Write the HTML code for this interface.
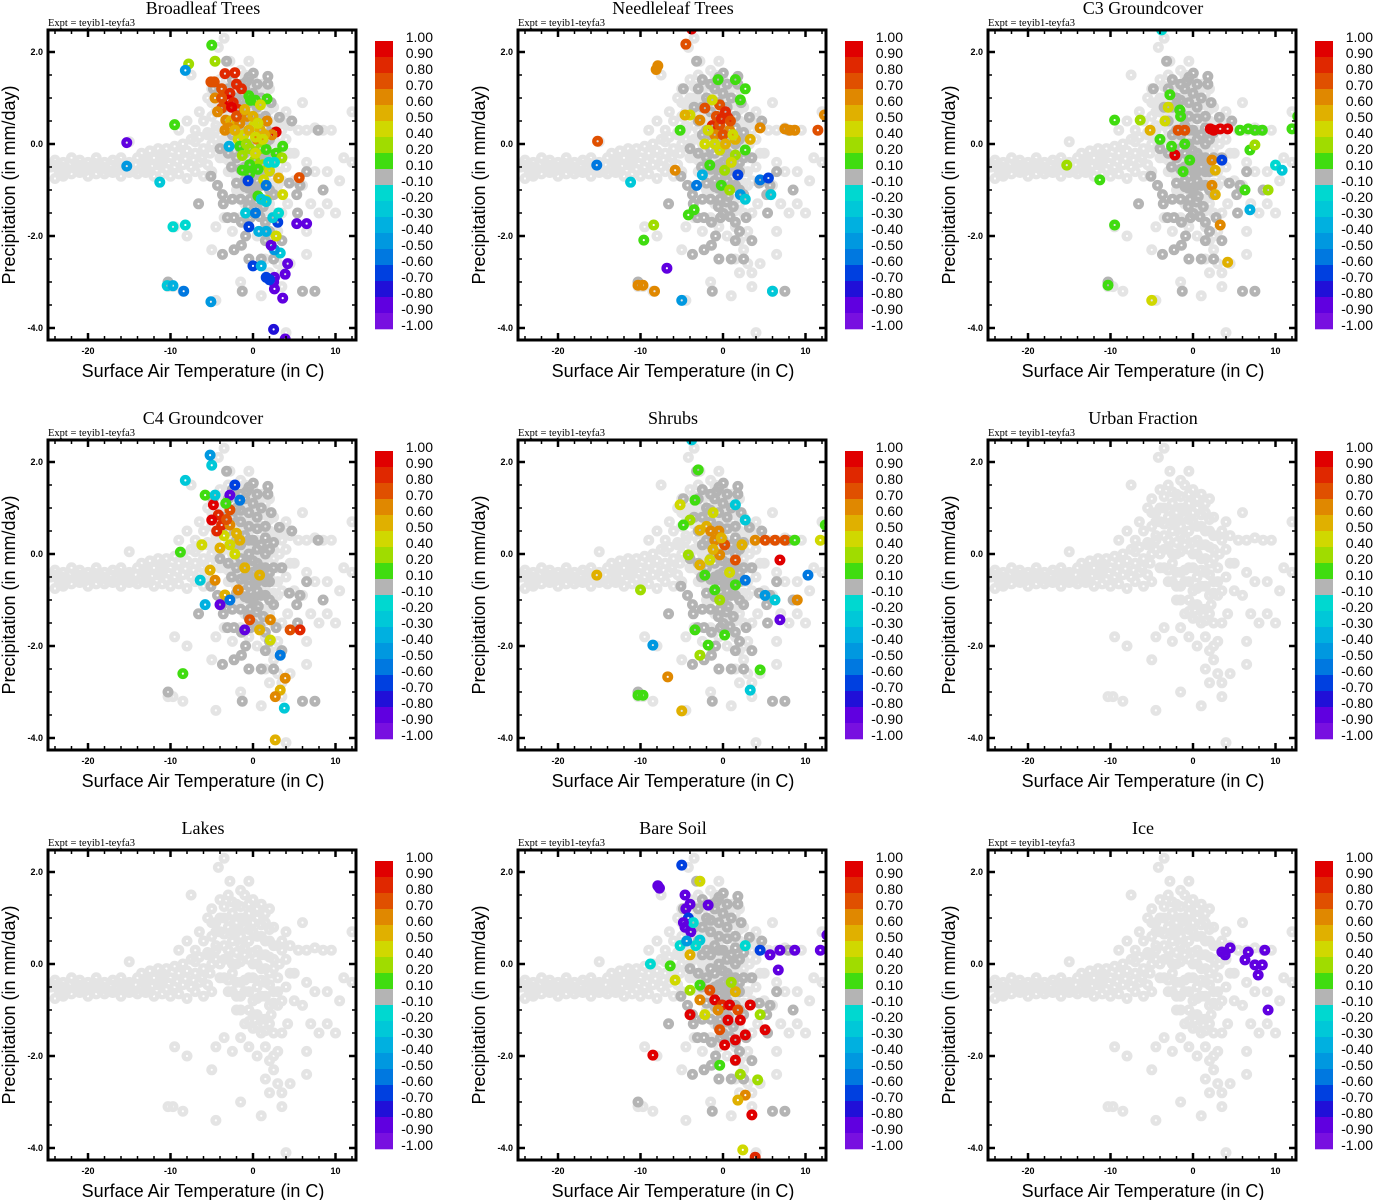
<!DOCTYPE html>
<html><head><meta charset="utf-8">
<style>
html,body{margin:0;padding:0;background:#fff;}
svg{display:block;}
text{font-family:"Liberation Sans",sans-serif;}
.serif{font-family:"Liberation Serif",serif;}
</style></head>
<body>
<svg id="chart" width="1373" height="1200" viewBox="0 0 1373 1200" xmlns="http://www.w3.org/2000/svg"></svg>
<script>
// ---- colour bar data ----
const cbLabels = ["1.00","0.90","0.80","0.70","0.60","0.50","0.40","0.20","0.10","-0.10","-0.20","-0.30","-0.40","-0.50","-0.60","-0.70","-0.80","-0.90","-1.00"];
const cbEdges = [1.0,0.9,0.8,0.7,0.6,0.5,0.4,0.2,0.1,-0.1,-0.2,-0.3,-0.4,-0.5,-0.6,-0.7,-0.8,-0.9,-1.0];
const cbColors = ["#e00000","#e02800","#e05000","#e08800","#e0b000","#d0d800","#a0dc00","#40dc10","#b4b4b4","#00d8d0","#00c8d8","#00b0e0","#0098e0","#0078e0","#0040e0","#2010d8","#6000e0","#7810e0"];
const xTickLabels = ["-20","-10","0","10"];
const xTickValues = [-20,-10,0,10];
const yTickLabels = ["2.0","0.0","-2.0","-4.0"];
const yTickValues = [2,0,-2,-4];
const panelTitles = ["Broadleaf Trees","Needleleaf Trees","C3 Groundcover","C4 Groundcover","Shrubs","Urban Fraction","Lakes","Bare Soil","Ice"];
const panelHasCore = [true,true,true,true,true,false,false,true,false];

// background cloud (light grey) [T, P]
const backgroundPoints = [
[-24.5,-0.5],[-24,-0.35],[-23.5,-0.6],[-23,-0.4],[-22.5,-0.55],[-22,-0.3],[-21.5,-0.5],[-21,-0.35],[-20.5,-0.6],[-20,-0.4],[-19.5,-0.5],[-19,-0.3],[-18.5,-0.55],[-18,-0.4],[-17.5,-0.6],[-17,-0.35],[-16.5,-0.5],[-16,-0.3],[-15.5,-0.55],[-15,-0.4],[-14.5,-0.6],[-14,-0.3],[-13.5,-0.5],[-13,-0.35],[-12.5,-0.6],[-12,-0.3],[-11.5,-0.45],[-11,-0.25],[-10.5,-0.55],[-10,-0.3],[-9.5,-0.5],[-9,-0.2],[-8.5,-0.45],[-8,-0.15],[-7.5,-0.5],[-7,-0.2],[-6.5,-0.4],[-6,-0.1],[-5.5,-0.45],[-5,0.0],
[-24.2,-0.45],[-23.2,-0.5],[-22.2,-0.45],[-21.2,-0.45],[-20.2,-0.5],[-19.2,-0.42],[-18.2,-0.5],[-17.2,-0.45],[-16.2,-0.42],[-15.2,-0.48],[-14.2,-0.45],[-13.2,-0.42],[-12.2,-0.48],[-11.2,-0.4],[-10.2,-0.42],[-9.2,-0.38],[-8.2,-0.32],[-7.2,-0.35],[-6.2,-0.3],[-5.2,-0.2],
[-13.5,-0.2],[-12.5,-0.15],[-11.5,-0.1],[-10.5,-0.1],[-9.5,-0.05],[-8.5,0.0],[-7.5,0.1],[-6.5,0.15],[-5.5,0.25],[-4.5,0.1],[-4,-0.3],[-7,-0.6],[-5,-0.6],[-9,-0.65],[-11,-0.65],[-13,-0.62],[-15,-0.62],[-17,-0.62],[-19,-0.65],[-21,-0.62],[-23,-0.62],
[-24,-0.75],[-23,-0.7],[-22,-0.65],[-20,-0.7],[-18,-0.65],[-16,-0.7],[-14,-0.65],[-12,-0.7],[-10,-0.7],[-8,-0.75],[-6,-0.7],[-9,0.3],[-7,0.05],[-8,0.5],[-6.5,0.7],[-7.5,1.5],[-5,0.9],[-4.5,0.4],[-15,0.05],[-11,-0.2],[-13,-0.45],
[-5,1.2],[-4,1.4],[-3,1.5],[-2,1.3],[-1,1.5],[0,1.4],[1,1.3],[2,1.2],[-4.5,0.9],[-3.5,1.0],[-2.5,1.1],[-1.5,1.0],[-0.5,1.1],[0.5,1.0],[1.5,0.9],[2.5,0.8],[-5,0.6],[-4,0.7],[-3,0.8],[-2,0.7],[-1,0.8],[0,0.7],[1,0.6],[2,0.5],[3,0.4],[-4.5,0.3],[-3.5,0.4],[-2.5,0.5],[-1.5,0.4],[-0.5,0.5],[0.5,0.3],[1.5,0.2],[2.5,0.1],[3.5,0.3],[-4,0.0],[-3,0.1],[-2,0.0],[-1,0.2],[0,0.0],[1,-0.1],[2,-0.2],[3,-0.3],[-3.5,-0.3],[-2.5,-0.2],[-1.5,-0.4],[-0.5,-0.3],[0.5,-0.5],[1.5,-0.4],[2.5,-0.6],[-3,-0.6],[-2,-0.7],[-1,-0.6],[0,-0.8],[1,-0.7],[2,-0.9],[-0.5,-1.0],[0.5,-1.1],[1.5,-1.2],[-1,-1.3],[0,-1.4],[1,-1.5],[2,-1.3],[-2,-1.0],[3,-0.9],[-1.5,1.6],[-0.5,1.8],[-2.8,1.8],[-4.2,2.1],[-5.5,1.0],[-6,0.5],[-5.5,0.2],[-7,0.3],[-3.5,2.3],
[-3.5,1.25],[-2.5,1.35],[-1.5,1.25],[-0.5,1.3],[0.5,1.2],[1.5,1.1],[-4,1.0],[-3,0.95],[-2,0.9],[-1,1.0],[0,0.9],[1,0.85],[2,0.75],[-4.5,0.7],[-3.5,0.65],[-2.5,0.7],[-1.5,0.6],[-0.5,0.75],[0.5,0.6],[1.5,0.5],[2.5,0.4],[-3,0.3],[-2,0.25],[-1,0.35],[0,0.25],[1,0.2],[2,0.15],[-3.5,0.1],[-2.5,0.0],[-1.5,0.05],[-0.5,0.1],[0.5,0.0],[1.5,-0.1],[2.5,-0.1],[3.2,0.0],[-3,-0.35],[-2,-0.4],[-1,-0.35],[0,-0.3],[1,-0.35],[2,-0.45],[3,-0.6],[-2.5,-0.6],[-1.5,-0.7],[-0.5,-0.6],[0.5,-0.75],[1.5,-0.7],[2.5,-0.85],[-1.5,-1.0],[0,-1.1],[1,-1.2],[2.2,-1.1],[-0.5,-1.25],[0.5,-1.35],[1.5,-1.45],[2.5,-1.5],
[1.5,-1.8],[2,-2.1],[2.5,-2.3],[3,-2.6],[3.5,-2.8],[0.5,-2.0],[-0.5,-1.8],[-1.5,-1.6],[-2.5,-1.9],[-3.5,-1.6],[-4.5,-1.8],[-5,-2.3],[-9.5,-1.8],[-8,-2.0],[-9.7,-3.1],[-10.3,-3.1],[-8.5,-3.2],[-4.5,-3.4],[-1.5,-3.0],[1,-3.3],[3.5,-3.1],[4.5,-2.6],[6.5,-2.4],[4,-4.1],[2,-2.8],[1.5,-2.5],[4.2,-1.3],[5,-0.8],[6,-0.9],[7,-1.3],[7.5,-0.6],[9,-0.6],[10.5,-0.8],[11,-0.3],[12,-0.4],[9,-1.3],[10,-1.5],[8,-1.5],[6.5,-1.9],[3.5,0.5],[4.5,0.4],[5.5,0.3],[6.5,0.3],[7.5,0.35],[8.5,0.3],[9.5,0.3],[12,0.7],[6,0.9],[4,0.7],[5,-0.2],[6.5,-0.4],[4,-0.5],[4,0.1],[4.5,-0.2],[3.5,-0.8],[3.5,-1.5],[3,-1.9],[2.5,-2.0]
];

// medium grey core (values within -0.1..0.1) [T, P]
const corePoints = [
[-3.2,1.8],[1.8,1.47],[1.8,1.3],[3.2,0.58],[4.7,0.5],[7.9,0.3],[5.7,-0.9],[5.3,-1.1],[4.4,-0.85],[-4.0,-0.1],[-2.6,-0.5],[-5.1,-0.7],[-4.3,-0.9],[-3.7,-1.1],[-3.6,-1.3],[-6.6,-1.3],[-3.1,-1.6],[-2.3,-1.6],[-1.4,-1.7],[-0.9,-2.0],[-1.4,-2.2],[-2.3,-2.3],[-3.7,-2.4],[1.0,-2.5],[-1.3,-3.2],[6.0,-3.2],[5.4,-1.5],[-4.8,1.2],[0.2,-0.6],
[-0.57,-0.96],[0.04,-1.03],[0.64,-1.14],[-0.36,-1.2],[0.44,-1.26],[1.25,-1.36],[0.04,-1.51],[0.85,-1.58],[-0.57,-1.36],[-0.97,-0.93],[0.04,1.54],[-0.77,1.36],
[-3,1.2],[-2,1.0],[-1,1.2],[0,1.1],[1,1.0],[-1.5,0.7],[-0.5,0.6],[0.5,0.8],[1.5,0.6],[2.2,0.9],[-2,0.3],[-1,0.4],[0,0.3],[1,0.2],[2,0.1],[-1.5,-0.1],[-0.5,0.0],[0.5,-0.2],[1.5,-0.3],[-1,-0.5],[0,-0.4],[1,-0.5],[2,-0.6],[-0.5,-0.7],[0.5,-0.8],[1.5,-0.9],[2.5,-1.1],[-2.5,-1.2],[2.8,-1.6],[3.5,-2.1],[2.5,-2.5],[1.5,-2.1],[-0.5,-2.5],[7.5,-3.2],[8.5,-1.0],[6.5,-0.6],[3.5,-0.3],[-10.3,-3.0],
[-2.5,1.4],[-1.5,1.3],[-0.5,1.45],[0.5,1.3],[-3.5,0.8],[-2.5,0.8],[-1.5,0.95],[-0.5,0.9],[0.5,0.55],[1.5,0.35],[2.5,0.25],[-3,0.5],[-2.5,0.2],[-1.5,0.2],[-0.5,0.3],[0.5,0.1],[1.5,0.0],[2.5,-0.3],[-3,-0.2],[-2,-0.3],[-1,-0.2],[0,-0.15],[1,-0.3],[2,-0.4],[-1.5,-0.55],[-0.5,-0.45],[0.5,-0.6],[1.5,-0.6],[-2,-0.85],[-1,-0.8],[0,-0.95],[1,-0.9],[2,-1.0],[-1.5,-1.2],[-0.3,-1.6],[1.5,-1.7],[2,-1.9]
];

// per-panel coloured points [T, P, value]
const broadleafPoints = [
[-5.0,2.15,0.15],[-7.8,1.74,0.3],[-8.2,1.6,-0.45],[-4.6,1.8,0.3],[-9.5,0.42,0.15],[-15.3,0.03,-0.9],[-15.3,-0.48,-0.45],[-11.3,-0.83,-0.3],[-9.7,-1.8,-0.2],[-8.2,-1.76,-0.2],[-10.4,-3.08,-0.3],[-9.7,-3.08,-0.4],[-8.4,-3.2,-0.6],[-5.1,-3.43,-0.45],[2.5,-4.03,-0.8],[3.9,-4.24,-0.85],[3.6,-3.35,-0.85],[3.9,-2.83,-0.9],[4.2,-2.6,-0.9],[2.6,-2.9,-0.85],[2.5,-3.0,-0.85],[2.6,-3.15,-0.85],[1.6,-2.9,-0.7],[2.0,-2.95,-0.7],[0,-2.65,-0.7],[1.0,-2.65,-0.4],[3.3,-2.37,-0.3],[2.6,-2.3,-0.5],[2.2,-2.2,-0.85],[2.8,-2.0,0.45],[5.3,-1.73,-0.85],[6.5,-1.73,-0.85],[3.0,-1.7,-0.65],[2.4,-1.6,-0.25],[3.1,-1.5,-0.2],[5.6,-0.73,0.75],[3.6,-1.1,0.45],[3.1,-0.74,0.55],[1.6,-1.22,0.45],[0.6,-1.13,0.15],[1.3,-0.78,0.4],[0.7,-1.9,-0.35],[1.6,-1.9,-0.35],[-0.5,-1.8,-0.7],[-0.9,-1.5,-0.25],[0.3,-1.5,-0.55],[2.8,0.26,0.95],[3.6,-0.05,0.15],[2.8,-0.2,0.15],[3.5,-0.3,0.3],[1.7,0.98,0.15],[0.3,0.95,0.15],[-0.5,1.05,0.15],[1.7,0.5,0.65],[2.3,0.2,0.6],
[-5.1,1.35,0.75],[-4.7,1.35,0.75],[-3.4,1.53,0.85],[-2.2,1.55,0.8],[-3.8,1.2,0.75],[-2.8,1.1,0.85],[-3.0,0.95,0.95],[-3.8,0.78,0.75],[-2.4,0.9,0.85],[-1.8,0.75,0.8],[-2.6,0.8,0.95],[-4.6,1.0,0.65],[-4.3,0.7,0.65],[-3.3,0.52,0.6],[-2.7,0.5,0.55],[-1.6,0.45,0.6],[-0.7,0.6,0.6],[0.1,0.4,0.45],[0.9,0.3,0.5],[1.4,0.2,0.55],[0.5,0.1,0.6],[-1.1,0.2,0.45],[-1.8,0.1,0.45],[-3.4,0.3,0.6],[-2.9,0.35,0.65],[0.9,0.85,0.45],[-0.3,0.95,0.15],
[-1.6,-0.05,0.15],[-0.4,-0.1,0.2],[0.9,-0.1,0.3],[1.6,-0.12,0.15],[-1.3,-0.25,0.3],[0.2,-0.35,0.2],[-0.4,-0.45,0.15],[1.2,-0.45,0.35],[-1.3,-0.57,0.15],[-0.4,-0.65,0.15],[0.6,-0.55,0.15],[2.0,-0.58,0.4],[0.3,-0.2,0.45],[-2.9,-0.05,-0.4],[1.9,-0.4,-0.2],[2.6,-0.4,-0.2],[-0.6,-0.8,-0.65],[1.6,-0.9,-0.6],[1.0,-1.2,-0.3],[1.6,-1.25,-0.3],
[-2.0,0.6,0.7],[-1.0,0.75,0.55],[0.0,0.6,0.5],[-0.5,0.3,0.5],[0.6,0.45,0.45],[-2.2,0.3,0.5],[-1.4,1.2,0.85],[-2.0,1.3,0.8],[-3.8,1.0,0.7],[1.2,0.1,0.4],[-0.8,0.0,0.3],[0.3,0.15,0.45]
];
const needleleafPoints = [
[-3.8,2.5,0.95],[-4.5,2.17,0.75],[-7.9,1.7,0.65],[-8.1,1.62,0.65],[-0.4,0.85,0.7],[-1.3,0.4,0.8],[-0.4,0.41,0.75],[0.6,0.57,0.85],[0.8,0.3,0.65],[-1,0.2,0.6],[1.5,0.1,0.55],[-2.2,0.78,0.7],[-2.8,0.52,0.6],[-1.3,0.96,0.45],[2.1,0.96,0.15],[2.7,1.2,0.15],[1.5,1.4,0.15],[-0.6,1.4,0.15],[-4,0.63,0.4],[-5.2,0.3,0.15],[-4.6,0.63,0.5],[-2.2,0,0.45],[-0.4,-0.13,0.4],[1.5,-0.24,0.2],[2.7,-0.13,0.15],[3.3,0.1,0.5],[4.5,0.35,0.65],[7.5,0.33,0.65],[8.1,0.3,0.65],[8.7,0.3,0.65],[11.5,0.3,0.7],[12.3,0.63,0.65],[-1.6,-0.46,0.15],[0.2,-0.57,0.35],[1.8,-0.67,-0.65],[4.5,-0.78,-0.6],[5.5,-0.74,-0.7],[-2.5,-0.67,-0.4],[2.1,-1.1,-0.5],[2.7,-1.2,-0.3],[-3.5,-1.43,0.15],[-4.2,-1.54,0.15],[-8.4,-1.76,0.3],[-9.6,-2.09,0.15],[-6.8,-2.7,-0.85],[-10.3,-3.07,0.65],[-9.7,-3.07,0.65],[-8.3,-3.2,0.65],[-5.0,-3.4,-0.45],[6,-3.2,-0.25],[-15.2,0.06,0.75],[-15.3,-0.46,-0.55],[-11.2,-0.83,-0.3],[-5.8,-0.57,0.6],[5.8,-1.1,-0.3],[-3.2,-0.9,-0.6],
[0,0.2,0.75],[-0.8,0.6,0.7],[0.3,0.0,0.5],[-1.8,0.3,0.45],[1,-0.4,0.4],[-0.2,-0.9,0.15],[0.8,-1.0,0.3],[0.3,0.7,0.8],[-0.2,0.55,0.85],[0.9,0.5,0.75],[-1.0,0.0,0.45],[1.2,0.2,0.45]
];
const c3Points = [
[-3.8,2.48,-0.2],[2.1,0.33,0.95],[2.5,0.3,0.95],[3.3,0.33,0.95],[4.2,0.33,0.9],[5.7,0.3,0.15],[6.7,0.33,0.15],[7.5,0.3,0.15],[8.4,0.3,0.15],[6.9,-0.13,0.15],[7.5,-0.02,0.3],[12,0.33,0.15],[12.7,0.6,0.15],[-1.8,0.3,0.7],[-1,0.3,0.75],[-3.4,0.5,0.4],[-5.2,0.3,0.5],[-4,0.1,0.15],[-2.2,-0.24,0.9],[-1,0,0.15],[-0.4,-0.35,0.15],[-1.6,0.74,0.15],[-2.8,1.07,0.15],[-6.4,0.52,0.3],[-9.5,0.52,0.15],[-11.3,-0.78,0.15],[-15.3,-0.46,0.3],[-9.5,-1.76,0.15],[-10.3,-3.07,0.15],[-5,-3.4,0.45],[2.3,-0.35,0.6],[2.7,-0.57,0.55],[2.3,-0.9,0.65],[2.7,-1.1,0.5],[3.3,-1.76,0.6],[4.2,-2.57,0.5],[6.3,-1.0,0.15],[9.1,-1.0,0.35],[10,-0.46,-0.2],[10.8,-0.57,-0.3],[3.5,-0.35,-0.7],[6.9,-1.43,-0.4],[-2.6,-0.05,0.15],[-1.2,-0.6,0.15],[-3.0,0.8,0.4],[-1.5,0.6,0.15]
];
const c4Points = [
[-4.8,1.07,0.9],[-4.2,0.85,0.85],[-3.8,0.63,0.8],[-2.8,0.96,0.75],[-5,0.74,0.95],[-5.8,1.28,0.15],[-5,1.93,-0.25],[-5.2,2.15,-0.45],[-2.8,0.63,0.65],[-1.6,0.3,0.5],[-2.8,0.2,0.45],[-4,0.13,0.5],[-2.2,1.5,-0.7],[-2.8,1.28,-0.85],[-1.6,1.17,-0.6],[-4.6,1.28,-0.3],[-6.2,0.2,0.4],[-8.8,0.04,0.15],[-6.4,-0.57,-0.25],[-5.2,-0.35,0.5],[-4.6,-0.57,0.6],[-3.4,-0.89,0.55],[-2.8,-1.0,-0.6],[-4,-1.1,-0.85],[-1.8,-0.78,0.65],[-0.4,-1.43,0.75],[-1,-1.65,-0.85],[0.8,-1.65,0.5],[2.1,-1.43,0.65],[2.1,-1.87,0.45],[3.3,-2.2,-0.6],[4.5,-1.65,0.75],[5.7,-1.65,0.8],[3.9,-2.7,0.65],[3.3,-2.96,0.5],[2.7,-3.1,0.65],[3.8,-3.35,-0.3],[2.7,-4.04,0.5],[-8.5,-2.6,0.15],[-8.2,1.6,-0.3],[-5.8,-1.1,-0.4],[0.8,-0.46,0.55],[-3.5,0.4,0.45],[-2.2,0.0,0.4],[-3.3,1.1,0.15],[-1.0,-0.3,0.5],[-4.4,0.5,0.8],[-3.2,0.75,0.7],[-2.0,0.45,0.5]
];
const shrubPoints = [
[-3.8,2.48,-0.3],[-3,1.83,0.15],[-3.4,1.17,0.15],[-4,0.74,0.35],[-2.8,0.52,0.5],[-1,0.3,0.65],[0.2,0.2,0.7],[-0.4,-0.02,0.6],[-1.6,-0.13,0.45],[-2.8,-0.24,0.55],[1.5,-0.13,0.75],[2.3,0.2,0.5],[2.7,0.74,-0.25],[1.5,1.07,-0.3],[3.9,0.3,0.65],[5.1,0.3,0.7],[6.3,0.3,0.75],[7.5,0.3,0.75],[8.7,0.3,0.15],[6.9,-0.13,0.9],[12.4,0.63,0.15],[11.8,0.3,0.4],[10.3,-0.46,-0.6],[5.1,-0.9,-0.45],[6.3,-1.0,-0.3],[6.9,-1.43,-0.85],[9,-1.0,0.6],[2.7,-0.57,-0.6],[-2.2,-0.46,0.15],[-1,-0.78,0.15],[-0.4,-1.0,0.3],[1.5,-0.67,0.15],[-3.4,-1.65,0.15],[-1.8,-1.98,0.15],[0.2,-1.76,0.15],[4.5,-2.52,0.15],[3.3,-2.96,-0.3],[-2.8,-2.2,0.3],[-8.5,-1.98,-0.5],[-10,-0.78,0.35],[-15.3,-0.46,0.55],[-6.7,-2.67,0.6],[-10.3,-3.07,0.15],[-9.7,-3.07,0.15],[-5,-3.41,0.5],[-4.2,-0.02,0.3],[-4.8,0.63,0.15],[-5.2,1.07,0.4],[-2.0,0.6,0.55],[-0.5,0.5,0.6],[0.8,-0.4,0.45],[-1.2,0.9,0.4],[-1.5,0.5,0.6],[-0.2,0.35,0.55],[-1.2,0.1,0.5]
];
const bareSoilPoints = [
[-5,2.15,-0.7],[-7.9,1.7,-0.9],[-7.7,1.65,-0.9],[-4.6,1.5,-0.9],[-4.5,1.2,-0.85],[-4.2,1.0,-0.7],[-4.6,0.8,-0.85],[-3.9,0.7,-0.9],[-3.6,0.9,-0.2],[-4.8,0.9,-0.9],[-2.8,1.8,0.45],[-1.8,1.28,-0.9],[-5.2,0.4,-0.2],[-4,0.2,0.5],[-8.8,0,-0.2],[-6.4,-0.04,0.15],[-5.8,-0.35,0.4],[-4,-0.57,0.35],[-2.8,-0.46,0.15],[-1.6,-0.57,0.7],[-1,-0.78,0.9],[-0.1,-0.89,0.8],[0.8,-0.89,0.95],[1.8,-1.0,0.75],[0.6,-1.22,0.9],[2.1,-1.22,0.9],[2.7,-1.54,0.9],[1.5,-1.65,0.95],[0.2,-1.76,0.9],[-0.4,-1.43,0.7],[-2.2,-1.1,0.45],[-2.8,-0.78,0.65],[-4,-1.1,0.9],[-0.4,-2.2,0.15],[1.5,-2.09,0.9],[2.1,-2.4,0.3],[4.2,-2.52,0.35],[2.7,-2.85,0.65],[1.8,-2.96,0.5],[3.5,-3.28,0.9],[2.4,-4.04,0.4],[3.9,-4.2,0.8],[-8.5,-1.98,0.9],[5.1,-1.43,0.9],[4.5,-1.1,0.3],[3.3,-0.89,0.9],[6.9,0.3,-0.9],[8.7,0.3,-0.85],[5.7,0.2,-0.9],[6.7,-0.13,-0.9],[11.8,0.3,-0.9],[12.6,0.63,-0.85],[4.5,0.3,-0.7],[2.7,0.4,-0.2],[-2.8,0.52,-0.25],[-3.3,0.4,-0.2],[1.5,-0.6,0.55],[-0.6,-1.0,0.6],[1.0,-0.4,0.3],[-4.0,1.3,-0.9],[-4.4,0.5,-0.5]
];
const icePoints = [
[3.5,0.26,-0.9],[4.5,0.35,-0.9],[3.9,0.2,-0.9],[6.7,0.26,-0.9],[7.5,-0.02,-0.9],[8.4,-0.02,-0.9],[8.7,0.3,-0.9],[7.9,-0.24,-0.9],[9.1,-1.0,-0.9],[6.3,0.09,-0.9]
];
const panelPoints = [broadleafPoints,needleleafPoints,c3Points,c4Points,shrubPoints,[],[],bareSoilPoints,icePoints];

// ---- layout ----
const NS = "http://www.w3.org/2000/svg";
const svg = document.getElementById("chart");
const PL = 48, PR = 356, PT = 30, PB = 340;
const MR = 3.3, MW = 4.4;
function xScale(t){ return 253 + t*8.25; }
function yScale(p){ return 144 - p*46; }
function colorFor(v){
  for(let i=0;i<cbColors.length;i++){ if(v>=cbEdges[i+1]) return cbColors[i]; }
  return cbColors[cbColors.length-1];
}
function mk(tag, attrs, parent){
  const e = document.createElementNS(NS, tag);
  for(const k in attrs) e.setAttribute(k, attrs[k]);
  parent.appendChild(e); return e;
}

panelTitles.forEach((title, idx)=>{
  const col = idx % 3, row = Math.floor(idx/3);
  const g = mk("g", {transform:`translate(${col*470},${row*410})`}, svg);
  
  

  const tt = mk("text", {x:203, y:14, "text-anchor":"middle", "font-size":"18", class:"serif"}, g);
  tt.textContent = title;
  
  

  const ex = mk("text", {x:48, y:26, "font-size":"10.5", class:"serif"}, g);
  ex.textContent = "Expt = teyib1-teyfa3";
  
  

  const cp = mk("clipPath", {id:"clip"+idx}, g);
  mk("rect", {x:PL, y:PT, width:PR-PL, height:PB-PT}, cp);
  const pts = mk("g", {"clip-path":`url(#clip${idx})`}, g);
  
  

  backgroundPoints.forEach(d=>{
    const c = mk("circle", {cx:xScale(d[0]), cy:yScale(d[1]), r:MR, fill:"none", stroke:"#e4e4e4", "stroke-width":MW}, pts);
    
    
  });
  if(panelHasCore[idx]){
    corePoints.forEach(d=>{
      const c = mk("circle", {cx:xScale(d[0]), cy:yScale(d[1]), r:MR, fill:"none", stroke:"#b4b4b4", "stroke-width":MW}, pts);
      
      
    });
  }
  panelPoints[idx].forEach(d=>{
    const c = mk("circle", {cx:xScale(d[0]), cy:yScale(d[1]), r:MR, fill:"none", stroke:colorFor(d[2]), "stroke-width":MW}, pts);
    
    
  });

  // ticks
  const tk = mk("g", {stroke:"#000", "stroke-width":1.5}, g);
  
  
  for(let t=-24; t<=12; t+=2){
    const x = xScale(t), major = (t%10===0), L = major?7:4;
    mk("line", {x1:x, y1:PB, x2:x, y2:PB-L, "stroke-width":major?2.5:1.5}, tk);
    mk("line", {x1:x, y1:PT, x2:x, y2:PT+L, "stroke-width":major?2.5:1.5}, tk);
  }
  for(let k=-8; k<=4; k++){
    const p = k*0.5, y = yScale(p);
    if(y<PT||y>PB) continue;
    const major = (k%4===0), L = major?7:4;
    mk("line", {x1:PL, y1:y, x2:PL+L, y2:y, "stroke-width":major?2.5:1.5}, tk);
    mk("line", {x1:PR, y1:y, x2:PR-L, y2:y, "stroke-width":major?2.5:1.5}, tk);
  }
  const box = mk("rect", {x:PL, y:PT, width:PR-PL, height:PB-PT, fill:"none", stroke:"#000", "stroke-width":3}, g);
  
  

  xTickValues.forEach((v,i)=>{
    const t = mk("text", {x:xScale(v), y:354, "text-anchor":"middle", "font-size":"9", "font-weight":"bold"}, g);
    t.textContent = xTickLabels[i];
    
    
  });
  yTickValues.forEach((v,i)=>{
    const t = mk("text", {x:43, y:yScale(v)+3, "text-anchor":"end", "font-size":"9", "font-weight":"bold"}, g);
    t.textContent = yTickLabels[i];
    
    
  });
  const xl = mk("text", {x:203, y:377, "text-anchor":"middle", "font-size":"18"}, g);
  xl.textContent = "Surface Air Temperature (in C)";
  
  
  const yl = mk("text", {x:0, y:0, "text-anchor":"middle", "font-size":"18", transform:"translate(15,185) rotate(-90)"}, g);
  yl.textContent = "Precipitation (in mm/day)";
  
  

  // colour bar
  const cb = mk("g", {}, g);
  
  
  cbColors.forEach((c,i)=>{
    const r = mk("rect", {x:375, y:41+i*16, width:18, height:16.3, fill:c}, cb);
    
    
  });
  cbLabels.forEach((s,i)=>{
    const t = mk("text", {x:433, y:42+i*16, "text-anchor":"end", "font-size":"14"}, cb);
    t.textContent = s;
    
    
  });
});
</script>
</body></html>
